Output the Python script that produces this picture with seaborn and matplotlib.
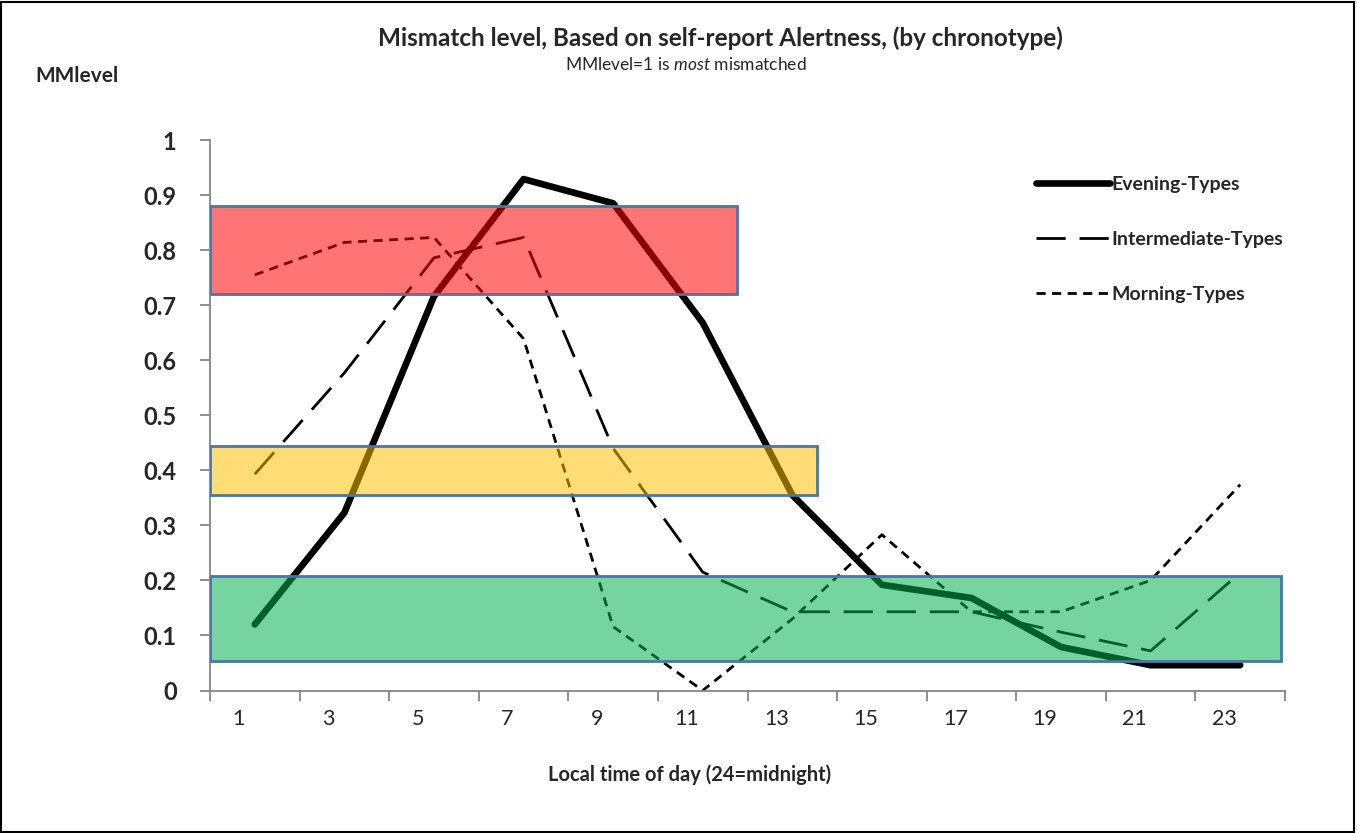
"""Mismatch level by chronotype, redrawn from an Excel line chart."""

import matplotlib

matplotlib.use("Agg")
import matplotlib.pyplot as plt  # noqa: E402
import matplotlib.transforms as mtransforms  # noqa: E402
import pandas as pd  # noqa: E402
import seaborn as sns  # noqa: E402
from matplotlib.patches import Rectangle  # noqa: E402

HOURS = [1, 3, 5, 7, 9, 11, 13, 15, 17, 19, 21, 23]
SERIES = ["Evening-Types", "Intermediate-Types", "Morning-Types"]
EVENING = [0.12, 0.323, 0.716, 0.929, 0.885, 0.668, 0.355, 0.192, 0.168, 0.079, 0.046, 0.046]
INTERMEDIATE = [0.393, 0.577, 0.786, 0.823, 0.44, 0.215, 0.143, 0.143, 0.143, 0.106, 0.072, 0.214]
MORNING = [0.755, 0.814, 0.823, 0.639, 0.116, 0.0, 0.13, 0.283, 0.143, 0.143, 0.2, 0.374]

# shaded bands: colour, low, high, right end (in category index units)
BAND_COLORS = ["#FF0000", "#FFC000", "#00B050"]
BAND_LOW = [0.72, 0.355, 0.054]
BAND_HIGH = [0.88, 0.445, 0.208]
BAND_END = [5.38, 6.28, 11.46]

sns.set_theme(style="white")
plt.rcParams["font.family"] = ["Lato", "DejaVu Sans"]
plt.rcParams["mathtext.fontset"] = "custom"
plt.rcParams["mathtext.rm"] = "Lato"
plt.rcParams["mathtext.it"] = "Lato:italic"

df = pd.DataFrame(
    {
        "pos": list(range(len(HOURS))) * 3,
        "mm": EVENING + INTERMEDIATE + MORNING,
        "type": [s for s in SERIES for _ in HOURS],
    }
)

fig = plt.figure(figsize=(13.57, 8.33), dpi=100)
ax = fig.add_axes([210 / 1357, 1 - 690.5 / 833, 1075 / 1357, 550.5 / 833])

sns.lineplot(
    data=df,
    x="pos",
    y="mm",
    style="type",
    size="type",
    style_order=SERIES,
    size_order=SERIES,
    sizes={"Evening-Types": 4.8, "Intermediate-Types": 2.0, "Morning-Types": 2.0},
    dashes={"Evening-Types": "", "Intermediate-Types": (10.5, 5.0), "Morning-Types": (3.3, 2.3)},
    color="black",
    ax=ax,
    zorder=2,
)
for line in ax.get_lines():
    line.set_solid_capstyle("round")

for color, lo, hi, end in zip(BAND_COLORS, BAND_LOW, BAND_HIGH, BAND_END):
    ax.add_patch(
        Rectangle(
            (-0.5, lo), end + 0.5, hi - lo,
            facecolor=matplotlib.colors.to_rgba(color, 0.54),
            edgecolor="#4A76A8", linewidth=2, zorder=3,
        )
    )

ax.set_xlim(-0.5, len(HOURS) - 0.5)
ax.set_ylim(0, 1)
ax.set_xticks(range(len(HOURS)))
ax.set_xticklabels([str(h) for h in HOURS], fontsize=15.5)
ax.set_xticks([i - 0.5 for i in range(len(HOURS) + 1)], minor=True)
ax.tick_params(axis="x", which="major", length=0, pad=13)
ax.tick_params(axis="x", which="minor", length=7, width=1.3, color="#868686", direction="out", bottom=True)
ax.set_yticks([i / 10 for i in range(11)])
ax.set_yticklabels(["0"] + [f"{i / 10:g}" for i in range(1, 10)] + ["1"], fontsize=17, fontweight="bold")
ax.tick_params(axis="y", length=7, width=1.3, color="#868686", direction="out", left=True, pad=17)
shift = mtransforms.ScaledTranslation(-16 / 100, 0, fig.dpi_scale_trans)
for lab in ax.get_xticklabels():
    lab.set_transform(lab.get_transform() + shift)

sns.despine(ax=ax)
for side in ("left", "bottom"):
    ax.spines[side].set_color("#868686")
    ax.spines[side].set_linewidth(1.3)
ax.set_xlabel("")
ax.set_ylabel("")

handles, labels = ax.get_legend_handles_labels()
keep = [(h, lab) for h, lab in zip(handles, labels) if lab in SERIES]
ax.legend(
    [h for h, _ in keep], [lab for _, lab in keep],
    loc="upper left", bbox_to_anchor=(1026 / 1357, 1 - 166 / 833),
    bbox_transform=fig.transFigure, frameon=False,
    handlelength=3.8, handletextpad=0.08, labelspacing=1.95, borderpad=0,
    prop={"weight": "bold", "size": 14},
)

fig.text(720 / 1357, 1 - 38 / 833, "Mismatch level, Based on self-report Alertness, (by chronotype)",
         ha="center", va="center", fontsize=17.5, fontweight="bold")
fig.text(686 / 1357, 1 - 64 / 833, r"MMlevel=1 is $\mathit{most}$ mismatched",
         ha="center", va="center", fontsize=12.5)
fig.text(35 / 1357, 1 - 76 / 833, "MMlevel", ha="left", va="center", fontsize=15, fontweight="bold")
fig.text(690 / 1357, 1 - 775 / 833, "Local time of day (24=midnight)",
         ha="center", va="center", fontsize=14.5, fontweight="bold")

fig.patches.append(
    Rectangle((0.001, 0.001), 0.997, 0.997, transform=fig.transFigure,
              fill=False, edgecolor="black", linewidth=1.5)
)

fig.savefig("out.png", dpi=100)
plt.close(fig)
